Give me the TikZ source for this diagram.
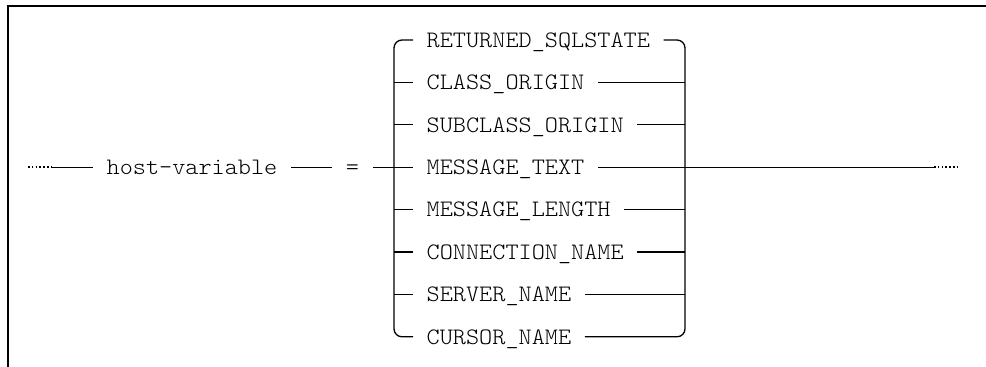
\documentclass[tikz,border=0pt]{standalone}
\usepackage{fontspec}
\setmonofont[FakeStretch=1.06]{lmmonolt10-regular.otf}
\begin{document}
\begin{tikzpicture}[x=1pt,y=-1pt,
  wire/.style={line width=1.3pt},
  rail/.style={line width=1.3pt, rounded corners=8pt},
  dots/.style={line width=1.6pt, dash pattern=on 1.6pt off 2.2pt},
  frame/.style={line width=2pt},
  kw/.style={font=\fontsize{23.6}{28}\selectfont\ttfamily, inner xsep=13.5pt,
    inner ysep=0pt, text height=14.6pt, text depth=0pt}]
\useasboundingbox (0,0) rectangle (986,367);

% open frame: top and left edges only
\draw[frame] (986,5.7) -- (8,5.7) -- (8,367);

% rails of the choice block
\coordinate (lr) at (394,0);
\coordinate (rr) at (685,0);

% alternatives
\node[kw, anchor=west] (o1) at (413,40.0)  {RETURNED\_SQLSTATE};
\node[kw, anchor=west] (o2) at (413,82.4)  {CLASS\_ORIGIN};
\node[kw, anchor=west] (o3) at (413,124.8) {SUBCLASS\_ORIGIN};
\node[kw, anchor=west] (o4) at (413,167.2) {MESSAGE\_TEXT};
\node[kw, anchor=west] (o5) at (413,209.6) {MESSAGE\_LENGTH};
\node[kw, anchor=west] (o6) at (413,252.0) {CONNECTION\_NAME};
\node[kw, anchor=west] (o7) at (413,294.4) {SERVER\_NAME};
\node[kw, anchor=west] (o8) at (413,336.8) {CURSOR\_NAME};

% leading part of the main line
\node[kw] (host) at (192,167.2) {host-variable};
\node[kw] (eq) at (352.5,167.2) {=};
\coordinate (in) at (28,167.2);
\coordinate (ink) at (52,167.2);
\coordinate (outk) at (934,167.2);
\coordinate (out) at (960,167.2);

\draw[rail] (o1.west) -- (o1.west -| lr) -- (o8.west -| lr) -- (o8.west);
\draw[rail] (o1.east) -- (o1.east -| rr) -- (o8.east -| rr) -- (o8.east);
\foreach \k in {2,...,7} {
  \draw[wire] (o\k.west -| lr) -- (o\k.west);
  \draw[wire] (o\k.east) -- (o\k.east -| rr);
}

\draw[dots] (in) -- (ink);
\draw[wire] (ink) -- (host);
\draw[wire] (host) -- (eq);
\draw[wire] (eq) -- (o4.west -| lr);
\draw[wire] (o4.east -| rr) -- (outk);
\draw[dots] (outk) -- (out);
\end{tikzpicture}
\end{document}
